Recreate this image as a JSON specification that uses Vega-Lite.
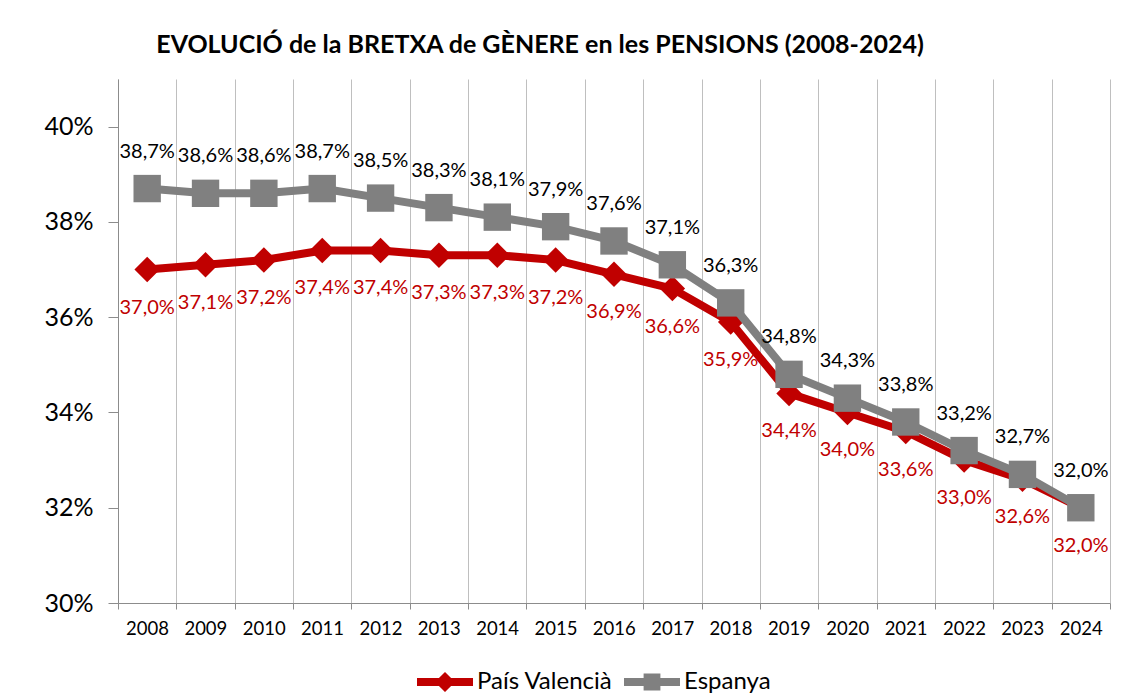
{
  "$schema": "https://vega.github.io/schema/vega-lite/v6.json",
  "width": 992,
  "height": 524,
  "autosize": {"type": "none"},
  "padding": {"left": 118, "top": 79, "right": 21, "bottom": 96},
  "background": "white",
  "title": {
    "text": "EVOLUCIÓ de la BRETXA de GÈNERE en les PENSIONS (2008-2024)",
    "font": "Lato",
    "fontSize": 25,
    "fontWeight": "bold",
    "color": "#000000",
    "anchor": "middle",
    "dx": -74,
    "baseline": "alphabetic",
    "offset": 1
  },
  "config": {
    "font": "Lato",
    "view": {"stroke": null}
  },
  "data": {
    "values": [
      {"year": 2008, "serie": "País Valencià", "v": 37.0},
      {"year": 2009, "serie": "País Valencià", "v": 37.1},
      {"year": 2010, "serie": "País Valencià", "v": 37.2},
      {"year": 2011, "serie": "País Valencià", "v": 37.4},
      {"year": 2012, "serie": "País Valencià", "v": 37.4},
      {"year": 2013, "serie": "País Valencià", "v": 37.3},
      {"year": 2014, "serie": "País Valencià", "v": 37.3},
      {"year": 2015, "serie": "País Valencià", "v": 37.2},
      {"year": 2016, "serie": "País Valencià", "v": 36.9},
      {"year": 2017, "serie": "País Valencià", "v": 36.6},
      {"year": 2018, "serie": "País Valencià", "v": 35.9},
      {"year": 2019, "serie": "País Valencià", "v": 34.4},
      {"year": 2020, "serie": "País Valencià", "v": 34.0},
      {"year": 2021, "serie": "País Valencià", "v": 33.6},
      {"year": 2022, "serie": "País Valencià", "v": 33.0},
      {"year": 2023, "serie": "País Valencià", "v": 32.6},
      {"year": 2024, "serie": "País Valencià", "v": 32.0},
      {"year": 2008, "serie": "Espanya", "v": 38.7},
      {"year": 2009, "serie": "Espanya", "v": 38.6},
      {"year": 2010, "serie": "Espanya", "v": 38.6},
      {"year": 2011, "serie": "Espanya", "v": 38.7},
      {"year": 2012, "serie": "Espanya", "v": 38.5},
      {"year": 2013, "serie": "Espanya", "v": 38.3},
      {"year": 2014, "serie": "Espanya", "v": 38.1},
      {"year": 2015, "serie": "Espanya", "v": 37.9},
      {"year": 2016, "serie": "Espanya", "v": 37.6},
      {"year": 2017, "serie": "Espanya", "v": 37.1},
      {"year": 2018, "serie": "Espanya", "v": 36.3},
      {"year": 2019, "serie": "Espanya", "v": 34.8},
      {"year": 2020, "serie": "Espanya", "v": 34.3},
      {"year": 2021, "serie": "Espanya", "v": 33.8},
      {"year": 2022, "serie": "Espanya", "v": 33.2},
      {"year": 2023, "serie": "Espanya", "v": 32.7},
      {"year": 2024, "serie": "Espanya", "v": 32.0}
    ]
  },
  "encoding": {
    "x": {
      "field": "year",
      "type": "quantitative",
      "title": null,
      "scale": {"domain": [2007.5, 2024.5], "nice": false, "zero": false},
      "axis": {
        "values": [2007.5, 2008.5, 2009.5, 2010.5, 2011.5, 2012.5, 2013.5, 2014.5, 2015.5, 2016.5, 2017.5, 2018.5, 2019.5, 2020.5, 2021.5, 2022.5, 2023.5, 2024.5],
        "grid": true,
        "gridColor": "#BFBFBF",
        "gridWidth": 1,
        "domainColor": "#8C8C8C",
        "tickColor": "#8C8C8C",
        "tickSize": 6,
        "labelExpr": "datum.value > 2024 ? '' : '' + (datum.value + 0.5)",
        "labelOffset": 29,
        "labelFont": "Lato",
        "labelFontSize": 18.5,
        "labelColor": "#000000",
        "labelPadding": 10,
        "labelFlush": false,
        "labelOverlap": false,
        "labelBound": false
      }
    },
    "y": {
      "field": "v",
      "type": "quantitative",
      "title": null,
      "scale": {"domain": [30, 41], "nice": false, "zero": false},
      "axis": {
        "values": [30, 32, 34, 36, 38, 40],
        "grid": false,
        "domainColor": "#8C8C8C",
        "tickColor": "#8C8C8C",
        "tickSize": 10,
        "labelExpr": "datum.value + '%'",
        "labelFont": "Lato",
        "labelFontSize": 25,
        "labelColor": "#000000",
        "labelPadding": 15
      }
    },
    "color": {
      "field": "serie",
      "type": "nominal",
      "scale": {"domain": ["País Valencià", "Espanya"], "range": ["#C00000", "#808080"]},
      "legend": {
        "orient": "none",
        "legendX": 299,
        "legendY": 575,
        "direction": "horizontal",
        "title": null,
        "padding": 0,
        "labelFont": "Lato",
        "labelFontSize": 24,
        "labelColor": "#000000",
        "labelOffset": 4,
        "columnPadding": 11,
        "symbolSize": 3136,
        "symbolStrokeWidth": 0,
        "encode": {
          "symbols": {
            "update": {
              "shape": {"signal": "datum.value === 'Espanya' ? 'M-1,-0.14L1,-0.14L1,0.14L-1,0.14Z M-0.3,-0.3L0.3,-0.3L0.3,0.3L-0.3,0.3Z' : 'M-1,-0.14L1,-0.14L1,0.14L-1,0.14Z M0,-0.36L0.36,0L0,0.36L-0.36,0Z'"},
              "fill": {"signal": "datum.value === 'Espanya' ? '#808080' : '#C00000'"},
              "fillOpacity": {"value": 1},
              "strokeWidth": {"value": 0},
              "size": {"value": 3136}
            }
          }
        }
      }
    }
  },
  "layer": [
    {
      "transform": [{"filter": "datum.serie === 'País Valencià'"}],
      "mark": {"type": "line", "strokeWidth": 8, "strokeJoin": "round", "strokeCap": "round"}
    },
    {
      "transform": [{"filter": "datum.serie === 'País Valencià'"}],
      "mark": {"type": "point", "shape": "diamond", "filled": true, "size": 650, "opacity": 1}
    },
    {
      "transform": [{"filter": "datum.serie === 'Espanya'"}],
      "mark": {"type": "line", "strokeWidth": 8, "strokeJoin": "round", "strokeCap": "round"}
    },
    {
      "transform": [{"filter": "datum.serie === 'Espanya'"}],
      "mark": {"type": "point", "shape": "square", "filled": true, "size": 750, "opacity": 1}
    },
    {
      "transform": [{"filter": "datum.serie === 'País Valencià'"}],
      "mark": {"type": "text", "dy": 38, "font": "Lato", "fontSize": 20, "fill": "#C00000", "baseline": "middle", "align": "center", "text": {"expr": "replace(format(datum.v, '.1f'), '.', ',') + '%'"}},
      "encoding": {"color": {"value": "#C00000"}}
    },
    {
      "transform": [{"filter": "datum.serie === 'Espanya'"}],
      "mark": {"type": "text", "dy": -37, "font": "Lato", "fontSize": 20, "fill": "#000000", "baseline": "middle", "align": "center", "text": {"expr": "replace(format(datum.v, '.1f'), '.', ',') + '%'"}},
      "encoding": {"color": {"value": "#000000"}}
    }
  ]
}
